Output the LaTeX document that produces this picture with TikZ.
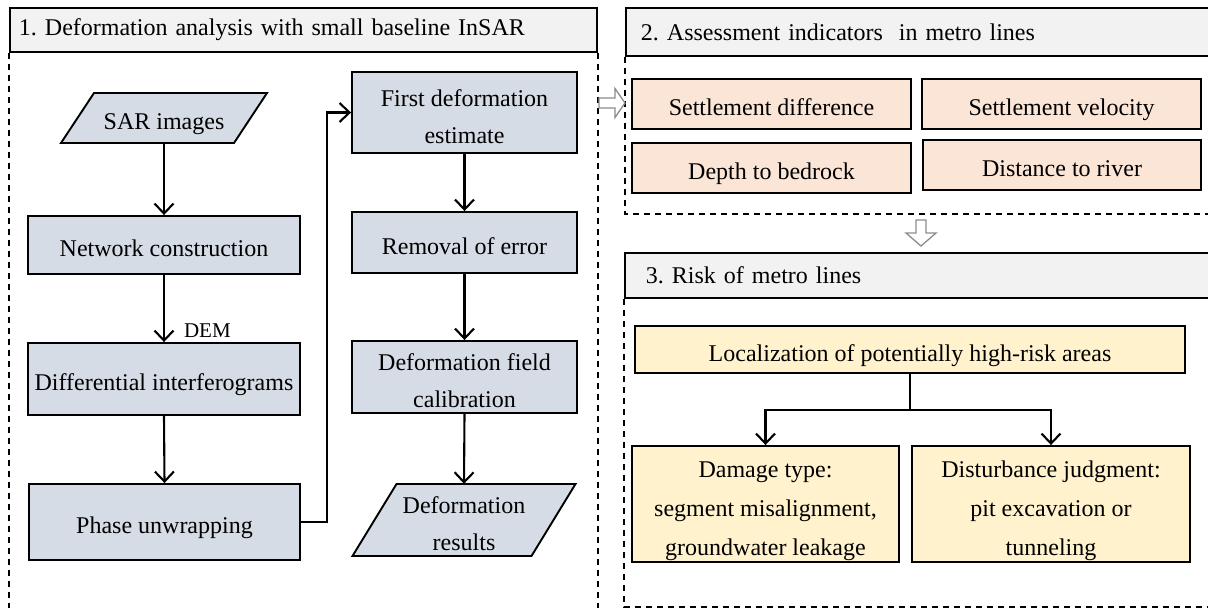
\documentclass[tikz,border=0pt]{standalone}
\usepackage{fontspec}
\setmainfont{Liberation Serif}
\usetikzlibrary{arrows.meta}
\definecolor{bluegray}{HTML}{D6DCE5}
\definecolor{peach}{HTML}{FBE5D6}
\definecolor{lightyel}{HTML}{FFF2CC}
\definecolor{headgray}{HTML}{F2F2F2}
\definecolor{hollowgray}{HTML}{8C8C8C}
\newcommand{\sone}{\rule{0pt}{25pt}}
\newcommand{\ssingle}{\rule[-6pt]{0pt}{35pt}}
\newcommand{\sthree}{\rule{0pt}{30pt}}
\frenchspacing
\begin{document}
\begin{tikzpicture}[x=1pt,y=-1pt,
  every node/.style={font=\fontsize{24}{37}\selectfont},
  box/.style={draw, line width=1.9pt, align=center, inner sep=0pt},
  bluebox/.style={box, fill=bluegray},
  peachbox/.style={box, fill=peach, minimum width=279pt, minimum height=50pt},
  yelbox/.style={box, fill=lightyel},
  plain/.style={align=center, inner sep=0pt},
  paraline/.style={draw, line width=1.9pt, fill=bluegray},
  arr/.style={line width=2.1pt, -{Straight Barb[length=10pt,width=19pt,line width=2.1pt]}},
  dashline/.style={line width=1.3pt, dash pattern=on 6pt off 5pt},
  header/.style={draw, line width=1.9pt, fill=headgray, anchor=north west, align=left, inner ysep=0pt},
  hollow/.style={draw=hollowgray, line width=1.3pt, fill=white, line join=miter}
]
\clip (0,0) rectangle (1208,608);

% ---------- headers ----------
\node[header, minimum height=44pt, text width=569pt, inner xsep=9pt] (h1) at (9,7) {1. Deformation analysis with small baseline InSAR};
\node[header, minimum height=48pt, text width=555pt, inner xsep=15pt] (h2) at (625,7) {2. Assessment indicators\ \ in metro lines};
\node[header, minimum height=45pt, text width=544pt, inner xsep=21pt] (h3) at (624,252) {3. Risk of metro lines};

% ---------- dashed panel frames ----------
\draw[dashline] (h1.south west) -- ++(0,570);
\draw[dashline] (h1.south east) -- ++(0,570);
\draw[dashline] (h2.south west) -- (625,214) -- (1215,214);
\draw[dashline] (h3.south west) -- (624,607) -- (1215,607);

% ---------- panel 1 ----------
\path[paraline] (61,143) -- (234,143) -- (267,93) -- (94,93) -- cycle;
\node[plain, minimum width=173pt, minimum height=50pt] (sar) at (164,118) {\ssingle SAR images};
\node[bluebox, minimum width=272pt, minimum height=58pt] (netc) at (164,245) {\ssingle Network construction};
\node[bluebox, minimum width=272pt, minimum height=72pt] (diff) at (164,379) {\ssingle Differential interferograms};
\node[bluebox, minimum width=271pt, minimum height=76pt] (phase) at (164.5,522) {\ssingle Phase unwrapping};

\node[bluebox, minimum width=225pt, minimum height=81pt] (first) at (464.5,112.5) {\sone First deformation\\estimate};
\node[bluebox, minimum width=225pt, minimum height=61pt] (remov) at (464.5,242.5) {\ssingle Removal of error};
\node[bluebox, minimum width=225pt, minimum height=72pt] (dfc) at (464.5,377) {\sone Deformation field\\calibration};
\path[paraline] (352.5,556) -- (531.5,556) -- (575.5,484) -- (396.5,484) -- cycle;
\node[plain, minimum width=179pt, minimum height=72pt] (dres) at (464,520) {\sone Deformation\\results};

\draw[arr] (sar.south) -- (netc.north);
\draw[arr] (netc.south) -- node[pos=0.83, anchor=west, inner sep=0pt, xshift=19pt, font=\fontsize{21}{24}\selectfont] (dem) {DEM} (diff.north);
\draw[arr] (diff.south) -- (phase.north);
\draw[arr] (phase.east) -- ++(26,0) |- (first.west);
\draw[arr] (first.south) -- (remov.north);
\draw[arr] (remov.south) -- (dfc.north);
\draw[arr] (dfc.south) -- (dres.north);

% ---------- panel 2 ----------
\node[peachbox] (sdiff) at (771.5,104) {\ssingle Settlement difference};
\node[peachbox] (svel) at (1061.5,104) {\ssingle Settlement velocity};
\node[peachbox] (depth) at (771.5,168) {\ssingle Depth to bedrock};
\node[peachbox, minimum width=278pt] (driver) at (1062,165) {\ssingle Distance to river};

% ---------- panel 3 ----------
\node[yelbox, minimum width=550pt, minimum height=47pt] (loc) at (910,349.5) {\ssingle Localization of potentially high-risk areas};
\node[yelbox, minimum width=267pt, minimum height=116pt, font=\fontsize{24}{39}\selectfont] (dam) at (765.5,504) {\sthree Damage type:\\segment misalignment,\\groundwater leakage};
\node[yelbox, minimum width=278pt, minimum height=116pt, font=\fontsize{24}{39}\selectfont] (dist) at (1051,504) {\sthree Disturbance judgment:\\pit excavation or\\tunneling};
\draw[arr] (loc.south) -- ++(0,36) -| (dam.north);
\draw[arr] (loc.south) -- ++(0,36) -| (dist.north);

% ---------- hollow block arrows between panels ----------
\draw[hollow] (599,98) -- (615,98) -- (615,88.5) -- (625,103) -- (615,117.5) -- (615,108) -- (599,108) -- cycle;
\draw[hollow] (916,220) -- (926,220) -- (926,233) -- (936,233) -- (921,246) -- (906,233) -- (916,233) -- cycle;
\end{tikzpicture}
\end{document}
